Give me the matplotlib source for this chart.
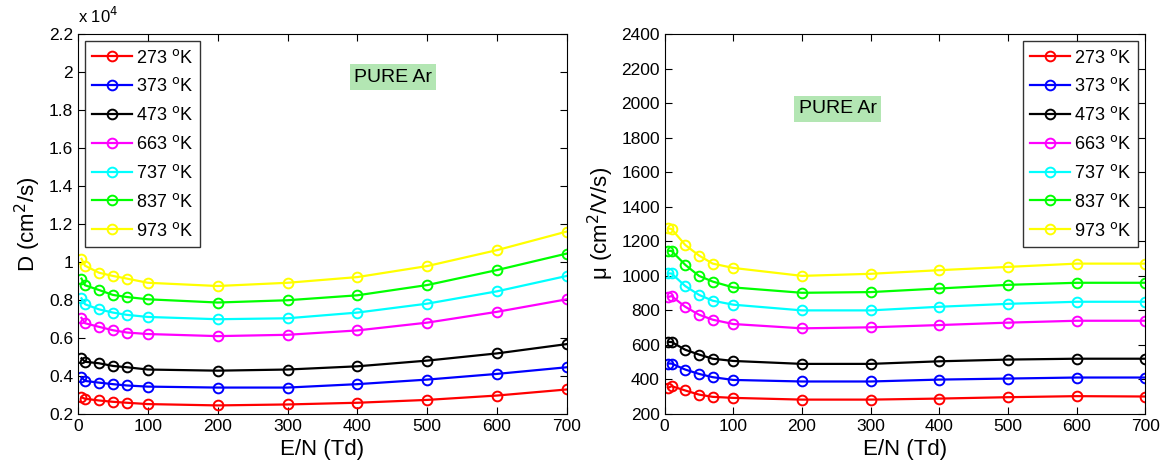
import matplotlib.pyplot as plt
import numpy as np
from matplotlib.ticker import FuncFormatter

plt.rcParams['font.family'] = ['Liberation Sans', 'DejaVu Sans']

#%%
# data
EN = [5, 10, 30, 50, 70, 100, 200, 300, 400, 500, 600, 700]
temps = ["273", "373", "473", "663", "737", "837", "973"]
colors = ["red", "blue", "black", "magenta", "cyan", "lime", "yellow"]

# diffusion coefficient D (cm^2/s)
D_273 = [2870, 2790, 2700, 2630, 2580, 2510, 2440, 2490, 2580, 2730, 2960, 3280]
D_373 = [3920, 3730, 3640, 3560, 3490, 3430, 3380, 3380, 3560, 3800, 4100, 4450]
D_473 = [4920, 4740, 4660, 4520, 4450, 4330, 4270, 4330, 4500, 4800, 5180, 5670]
D_663 = [7050, 6770, 6580, 6400, 6280, 6200, 6090, 6160, 6390, 6800, 7370, 8030]
D_737 = [8080, 7770, 7500, 7330, 7210, 7100, 6980, 7030, 7330, 7800, 8450, 9260]
D_837 = [9120, 8770, 8520, 8260, 8150, 8030, 7860, 7980, 8240, 8780, 9570, 10440]
D_973 = [10160, 9800, 9430, 9260, 9120, 8900, 8730, 8900, 9200, 9780, 10620, 11600]

# mobility mu (cm^2/V/s)
mu_273 = [350, 360, 335, 311, 298, 292, 282, 282, 288, 296, 302, 300]
mu_373 = [491, 491, 456, 431, 412, 396, 387, 387, 398, 404, 410, 410]
mu_473 = [616, 616, 571, 543, 519, 506, 489, 489, 504, 514, 519, 519]
mu_663 = [876, 882, 820, 774, 745, 720, 695, 701, 714, 728, 739, 739]
mu_737 = [1013, 1013, 940, 889, 855, 832, 799, 799, 820, 837, 849, 849]
mu_837 = [1144, 1144, 1063, 999, 966, 932, 901, 905, 926, 947, 959, 959]
mu_973 = [1274, 1271, 1178, 1117, 1070, 1045, 999, 1011, 1032, 1051, 1070, 1070]

D_all = [D_273, D_373, D_473, D_663, D_737, D_837, D_973]
mu_all = [mu_273, mu_373, mu_473, mu_663, mu_737, mu_837, mu_973]

#%%
fig = plt.figure(figsize=(11.64, 4.67), dpi=100)
ax1 = fig.add_axes([0.067, 0.114, 0.420, 0.813])
ax2 = fig.add_axes([0.571, 0.114, 0.413, 0.813])

box = dict(facecolor="#b3e6b3", edgecolor="none", pad=3)

for ax, data in [(ax1, D_all), (ax2, mu_all)]:
    for i in range(len(temps)):
        ax.plot(EN, data[i], c=colors[i], marker="o", ms=7, mfc="none",
                mew=1.4, lw=1.6, label=temps[i] + " $^{\\rm o}$K")
    ax.set_xlim(0, 700)
    ax.set_xticks(np.arange(0, 701, 100))
    ax.tick_params(direction="in", top=True, right=True, labelsize=12.5,
                   length=5)
    ax.set_xlabel("E/N (Td)", fontsize=16)

ax1.set_ylim(2000, 22000)
ax1.set_yticks(np.arange(2000, 22001, 2000))
ax1.yaxis.set_major_formatter(FuncFormatter(lambda v, p: "%g" % round(v / 1e4, 1)))
ax1.set_ylabel("D (cm$^2$/s)", fontsize=16)
ax1.text(0.0, 1.02, "x 10$^4$", transform=ax1.transAxes, fontsize=12,
         va="bottom")
ax1.text(395, 19500, "PURE Ar", fontsize=14, bbox=box)
ax1.legend(loc="upper left", fontsize=13, fancybox=False, edgecolor="black",
           handlelength=2.2, handletextpad=0.2, borderaxespad=0.4,
           labelspacing=0.6)

ax2.set_ylim(200, 2400)
ax2.set_yticks(np.arange(200, 2401, 200))
ax2.set_ylabel("\u03bc (cm$^2$/V/s)", fontsize=16)
ax2.text(195, 1940, "PURE Ar", fontsize=14, bbox=box)
ax2.legend(loc="upper right", fontsize=13, fancybox=False, edgecolor="black",
           handlelength=2.2, handletextpad=0.2, borderaxespad=0.4,
           labelspacing=0.6)

plt.savefig("out.png", dpi=100)
